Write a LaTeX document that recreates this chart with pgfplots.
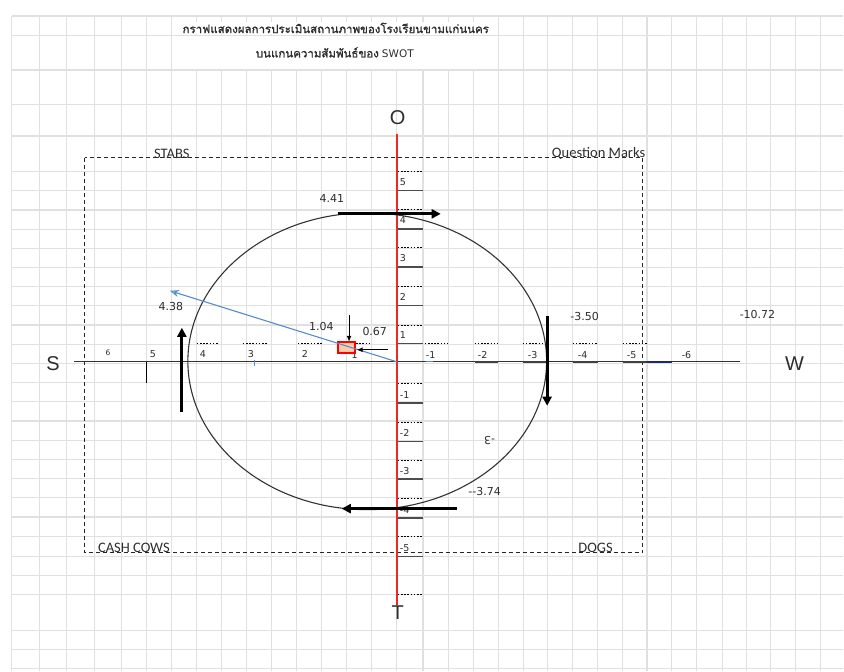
\documentclass[border=0pt]{standalone}
\usepackage{pgfplots}
\pgfplotsset{compat=1.18}
\usetikzlibrary{arrows.meta}
\usepackage{fontspec}
\setmainfont{Liberation Sans}
\newfontfamily\thaifont[Script=Thai,FakeBold=1.3]{Loma}
\newfontfamily\cali{Carlito}
\newfontfamily\tah{DejaVu Sans}

\definecolor{gridgray}{RGB}{224,224,224}
\definecolor{axred}{RGB}{235,40,40}
\definecolor{vecblue}{RGB}{85,140,205}
\definecolor{txt}{RGB}{45,45,45}
\definecolor{peach}{RGB}{250,205,170}
\definecolor{navy}{RGB}{30,40,110}

% short cell borders: \dotseg{x1}{x2}{y}, \solseg{x1}{x2}{y}
\newcommand\dotseg[3]{\draw[black, line width=1pt, dash pattern=on 1.6pt off 1.6pt] (axis cs:#1,#3) -- (axis cs:#2,#3);}
\newcommand\solseg[3]{\draw[black!70, line width=1.4pt] (axis cs:#1,#3) -- (axis cs:#2,#3);}

\begin{document}
\begin{tikzpicture}
\begin{axis}[
  width=844pt, height=671pt, scale only axis,
  xmin=0, xmax=844, ymin=0, ymax=671,
  y dir=reverse, hide axis, clip=false]

% sheet background and cell grid
\fill[white] (axis cs:0,0) rectangle (axis cs:844,671);
\pgfplotsinvokeforeach{11.7,39.3,66.7,94.3,121.7,146.7,171.7,196.7,221.7,246.7,271.7,296.7,321.7,346.7,371.7,396.7,423.3,449,474,499,523.5,548,572.7,597.7,622.7,647.5,672.3,696.7,723,746.7,771,795.7,820.7}{
  \draw[gridgray, line width=1.2pt] (axis cs:#1,16) -- (axis cs:#1,671);}
\pgfplotsinvokeforeach{16,35.3,70,104.3,136,171.7,190.9,210.1,229.3,248.5,267.7,286.9,306.1,325.3,344.5,363.7,382.9,402.1,421.3,440.5,459.7,478.9,498.1,517.3,536.5,556.7,576,595,630.7,650,669.3}{
  \draw[gridgray, line width=1.2pt] (axis cs:11.7,#1) -- (axis cs:844,#1);}

% title
\fill[white] (axis cs:172,36.5) rectangle (axis cs:498,69);
\node[fill=white, inner sep=1pt, text=txt, font=\thaifont\fontsize{11.5}{13}\selectfont]
  at (axis cs:336,28) {กราฟแสดงผลการประเมินสถานภาพของโรงเรียนขามแก่นนคร};
\node[text=txt, inner sep=1pt, font=\fontsize{11.5}{13}\selectfont]
  at (axis cs:335,52.5) {{\thaifont บนแกนความสัมพันธ์ของ} {\tah\fontsize{10.5}{13}\selectfont SWOT}};

% quadrant box
\draw[black!85, line width=0.9pt, dash pattern=on 4pt off 3pt] (axis cs:85,158) rectangle (axis cs:643,553);
\node[text=txt, inner sep=0pt, font=\cali\fontsize{14.5}{16}\selectfont] at (axis cs:172,154) {STABS};
\node[text=txt, inner sep=0pt, font=\cali\fontsize{14.5}{16}\selectfont] at (axis cs:599,154) {Question Marks};
\node[text=txt, inner sep=0pt, font=\cali\fontsize{14.5}{16}\selectfont] at (axis cs:134,548) {CASH COWS};
\node[text=txt, inner sep=0pt, font=\cali\fontsize{14.5}{16}\selectfont] at (axis cs:596,548) {DOGS};

% horizontal axis S--W
\addplot[black!80, line width=1.1pt] coordinates {(74,362) (741,362)};
\addplot[black!75, line width=2pt] coordinates {(475,362) (498,362)};
\addplot[black!75, line width=2pt] coordinates {(523,362) (547,362)};
\addplot[black!75, line width=2pt] coordinates {(573,362) (598,362)};
\addplot[black!75, line width=2pt] coordinates {(623,362) (647,362)};
\addplot[navy, line width=2pt] coordinates {(647,362) (672,362)};
\addplot[vecblue, line width=1.5pt] coordinates {(426,362) (433,362)};
\addplot[vecblue, line width=1pt] coordinates {(255,360) (255,366)};
\addplot[black, line width=1pt] coordinates {(146.7,362) (146.7,383)};
\dotseg{197}{218}{344}
\dotseg{243}{267}{344}
\dotseg{298}{323}{344}
\dotseg{353}{372}{344}
\dotseg{425}{448}{344}
\dotseg{475}{498}{344}
\dotseg{523}{547}{344}
\dotseg{573}{597}{344}
\dotseg{623}{647}{344}

% vertical axis cells (right of the red line)
\solseg{398}{423}{190.7}
\solseg{398}{423}{229}
\solseg{398}{423}{267}
\solseg{398}{423}{305.7}
\solseg{398}{423}{344}
\solseg{398}{423}{403.3}
\solseg{398}{423}{441.7}
\solseg{398}{423}{479.3}
\solseg{398}{423}{518.3}
\solseg{398}{423}{556.7}
\dotseg{398}{423}{171.5}
\dotseg{398}{423}{209.5}
\dotseg{398}{423}{248}
\dotseg{398}{423}{287}
\dotseg{398}{423}{325.5}
\dotseg{398}{423}{384}
\dotseg{398}{423}{422.3}
\dotseg{398}{423}{460.7}
\dotseg{398}{423}{499.3}
\dotseg{398}{423}{537.3}
\dotseg{398}{423}{595}

% tick numbers
\begin{scope}[every node/.style={text=txt, inner sep=0pt, font=\tah\fontsize{9.5}{11}\selectfont}]
\node at (axis cs:108,353) {\fontsize{7.5}{9}\selectfont 6};
\node at (axis cs:153,354) {5};
\node at (axis cs:203,354) {4};
\node at (axis cs:251,354) {3};
\node at (axis cs:305,354) {2};
\node at (axis cs:355,355) {1};
\node at (axis cs:431,355) {-1};
\node at (axis cs:483,355) {-2};
\node at (axis cs:533,355) {-3};
\node at (axis cs:583,355) {-4};
\node at (axis cs:632,355) {-5};
\node at (axis cs:687,355) {-6};
\node[anchor=west] at (axis cs:400,182) {5};
\node[anchor=west] at (axis cs:400,220) {4};
\node[anchor=west] at (axis cs:400,258) {3};
\node[anchor=west] at (axis cs:400,297) {2};
\node[anchor=west] at (axis cs:400,335) {1};
\node[anchor=west] at (axis cs:400,395) {-1};
\node[anchor=west] at (axis cs:400,433) {-2};
\node[anchor=west] at (axis cs:400,471.5) {-3};
\node[anchor=west] at (axis cs:400,510) {-4};
\node[anchor=west] at (axis cs:400,548) {-5};
\end{scope}

% red O--T axis
\addplot[axred, line width=2pt] coordinates {(397,134) (397,605)};
\node[text=txt, font=\fontsize{20}{22}\selectfont] at (axis cs:398,118) {O};
\node[text=txt, font=\fontsize{20}{22}\selectfont] at (axis cs:398,613) {T};
\node[text=txt, font=\fontsize{20}{22}\selectfont] at (axis cs:53,364) {S};
\node[text=txt, font=\fontsize{20}{22}\selectfont] at (axis cs:795,364) {W};

% ellipse
\draw[black!80, line width=1.1pt] (axis cs:367.5,361.5) ellipse [x radius=179.5, y radius=148.5];

% heavy arrows
\addplot[black, line width=3pt, -{Triangle[length=9pt,width=9pt]}] coordinates {(338,214) (441,214)};
\addplot[black, line width=3pt, -{Triangle[length=9pt,width=9pt]}] coordinates {(547.5,316) (547.5,406)};
\addplot[black, line width=3pt, -{Triangle[length=9pt,width=9pt]}] coordinates {(457,509) (342,509)};
\addplot[black, line width=3pt, -{Triangle[length=9pt,width=9pt]}] coordinates {(182,412) (182,328)};

% resultant point and vector
\draw[red, line width=1.8pt, fill=peach] (axis cs:338,342) rectangle (axis cs:355,353.5);
\addplot[vecblue, line width=1.1pt, -{Stealth[length=9pt,width=7pt,open]}] coordinates {(397,362) (170,291)};
\addplot[black, line width=1pt, -{Latex[length=6pt,width=5pt]}] coordinates {(349.3,315) (349.3,342)};
\addplot[black, line width=1pt, -{Latex[length=6pt,width=5pt]}] coordinates {(388,350) (357,350)};

% value labels
\begin{scope}[every node/.style={text=txt, inner sep=0pt, font=\tah\fontsize{11}{13}\selectfont}]
\node at (axis cs:332,199) {4.41};
\node at (axis cs:171,307) {4.38};
\node at (axis cs:321.5,327) {1.04};
\node at (axis cs:375,331.5) {0.67};
\node at (axis cs:585,317) {-3.50};
\node at (axis cs:758,315) {-10.72};
\node at (axis cs:485,492) {--3.74};
\node[rotate=180] at (axis cs:490,441) {-3};
\end{scope}

\end{axis}
\end{tikzpicture}
\end{document}
